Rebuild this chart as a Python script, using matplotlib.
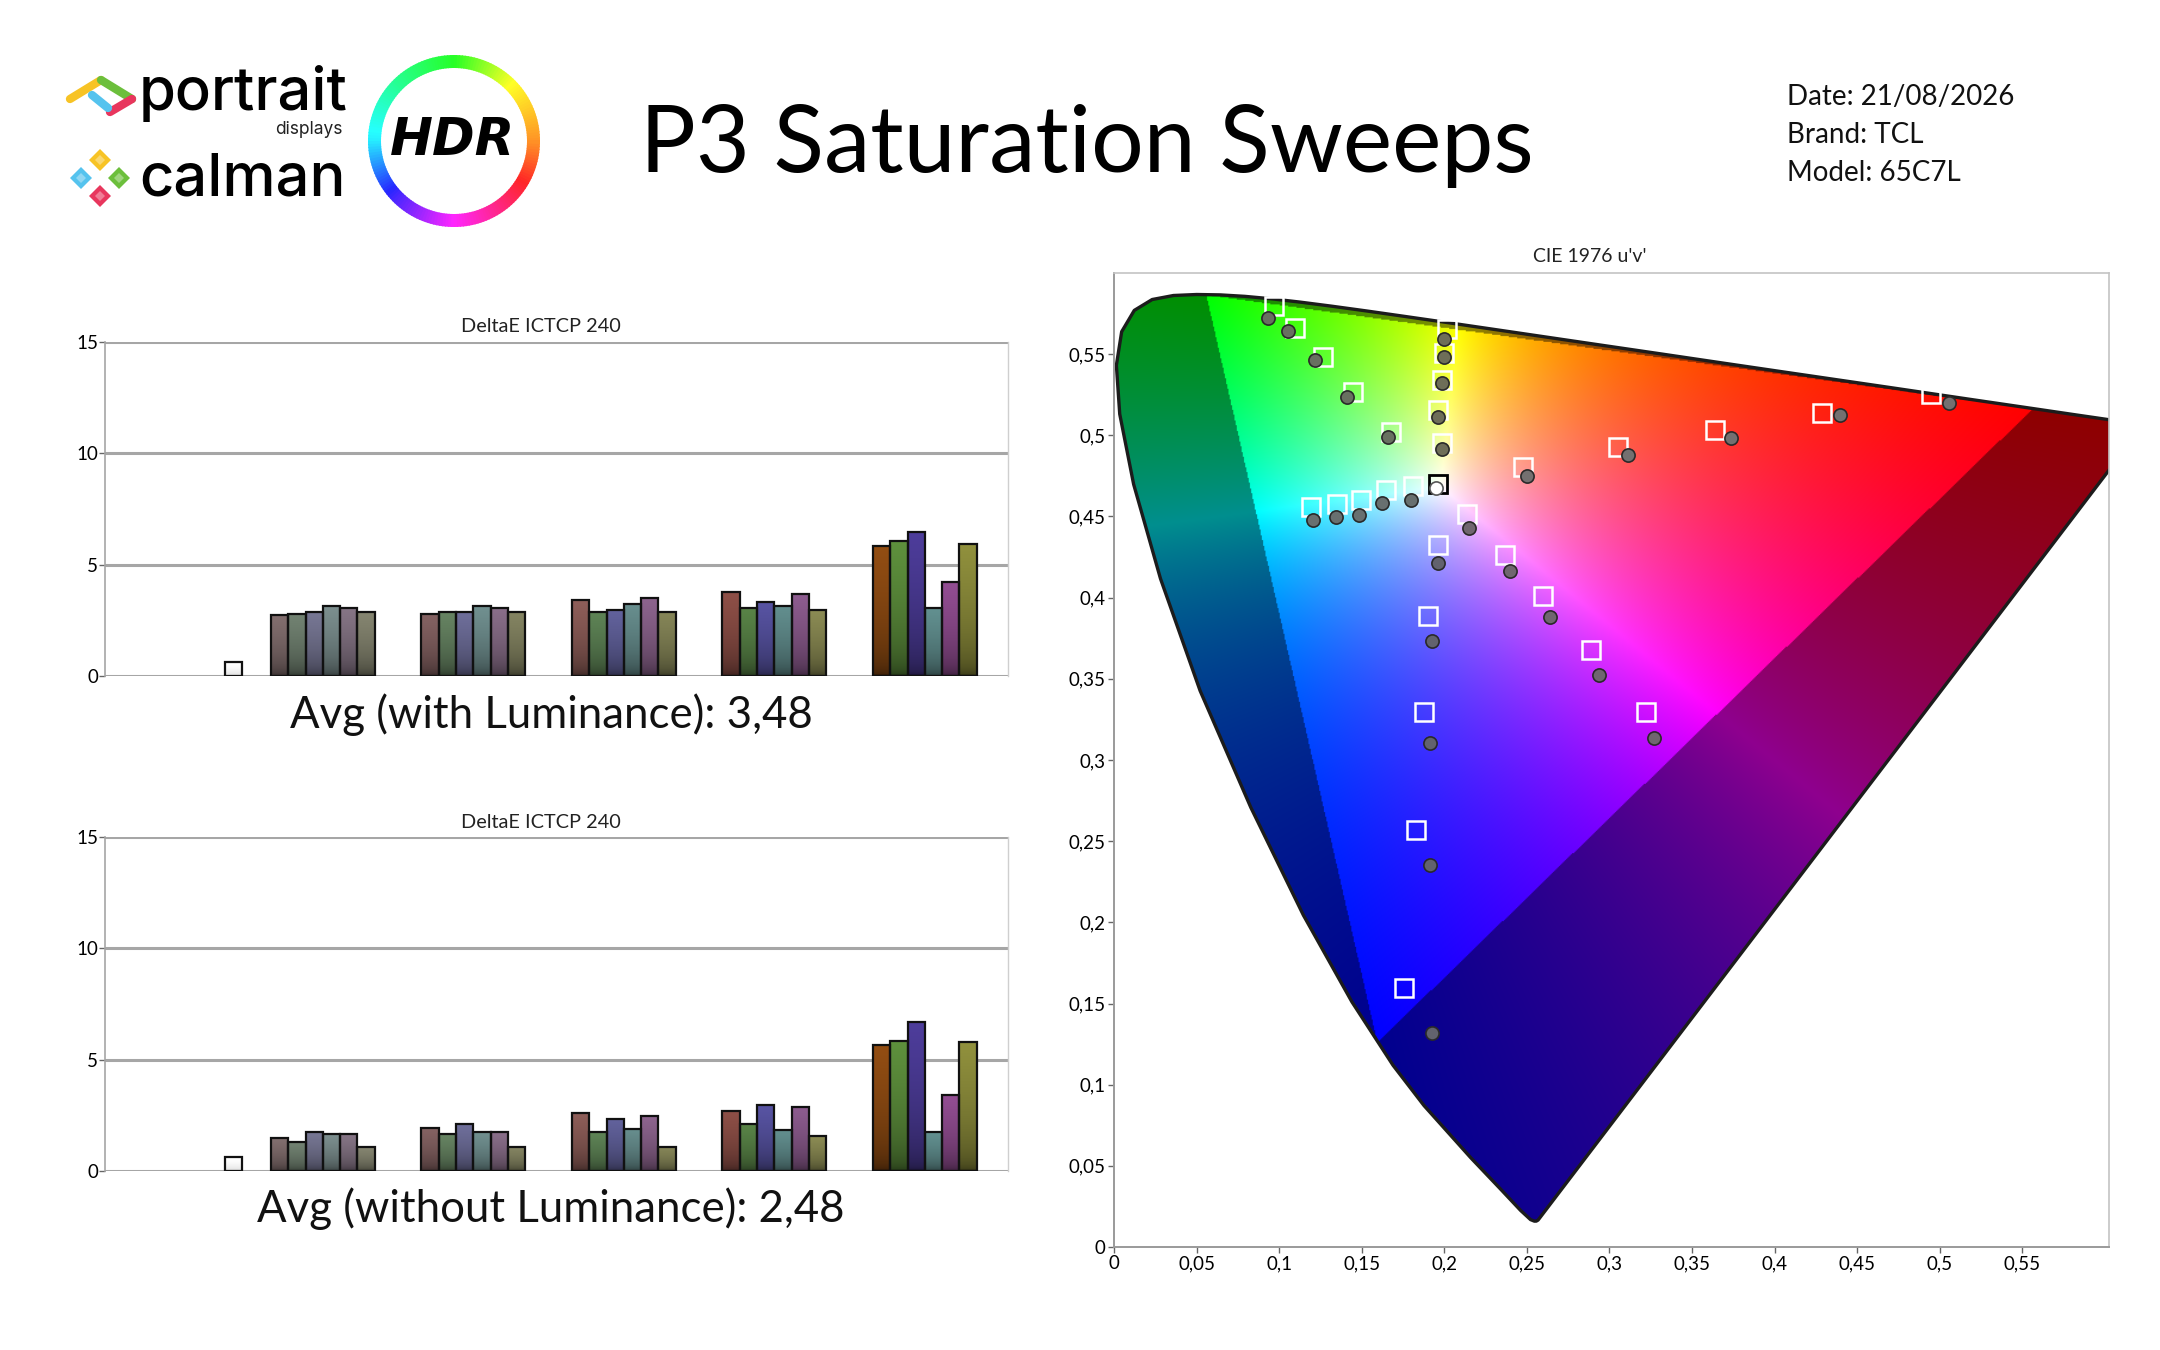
import numpy as np
import matplotlib
matplotlib.use("Agg")
import matplotlib.pyplot as plt
from matplotlib.patches import Polygon, Wedge
from matplotlib.colors import to_rgb, hsv_to_rgb

# ---------------- data ----------------
chart_title = "P3 Saturation Sweeps"
info_lines = ["Date: 21/08/2026", "Brand: TCL", "Model: 65C7L"]
bar_title = "DeltaE ICTCP 240"
cie_title = "CIE 1976 u'v'"
saturations = ["20%", "40%", "60%", "80%", "100%"]
sweep_names = ["Red", "Green", "Blue", "Cyan", "Magenta", "Yellow"]

# DeltaE with luminance
white_de_lum = 0.61
de_lum_20 = [2.73, 2.80, 2.88, 3.15, 3.06, 2.88]
de_lum_40 = [2.80, 2.88, 2.88, 3.15, 3.06, 2.88]
de_lum_60 = [3.41, 2.88, 2.98, 3.24, 3.52, 2.88]
de_lum_80 = [3.76, 3.06, 3.33, 3.15, 3.67, 2.98]
de_lum_100 = [5.86, 6.06, 6.48, 3.06, 4.20, 5.95]
avg_lum_label = "Avg (with Luminance): 3,48"

# DeltaE without luminance
white_de_nolum = 0.61
de_nolum_20 = [1.48, 1.29, 1.74, 1.64, 1.64, 1.06]
de_nolum_40 = [1.92, 1.64, 2.09, 1.74, 1.74, 1.06]
de_nolum_60 = [2.61, 1.74, 2.35, 1.89, 2.45, 1.06]
de_nolum_80 = [2.70, 2.09, 2.95, 1.82, 2.88, 1.56]
de_nolum_100 = [5.68, 5.86, 6.67, 1.74, 3.41, 5.79]
avg_nolum_label = "Avg (without Luminance): 2,48"

bar_yticks = [0, 5, 10, 15]
bar_yticklabels = ["0", "5", "10", "15"]

# CIE u'v' chart: targets (squares) and measurements (circles), 20% -> 100%
red_t_u = [0.2479, 0.3054, 0.3642, 0.4287, 0.4949]
red_t_v = [0.4808, 0.4927, 0.5034, 0.5140, 0.5255]
red_m_u = [0.2503, 0.3111, 0.3736, 0.4398, 0.5056]
red_m_v = [0.4747, 0.4876, 0.4985, 0.5126, 0.5198]

green_t_u = [0.1680, 0.1448, 0.1264, 0.1099, 0.0968]
green_t_v = [0.5020, 0.5270, 0.5485, 0.5664, 0.5797]
green_m_u = [0.1659, 0.1411, 0.1216, 0.1053, 0.0934]
green_m_v = [0.4987, 0.5237, 0.5463, 0.5643, 0.5725]

blue_t_u = [0.1961, 0.1903, 0.1880, 0.1828, 0.1759]
blue_t_v = [0.4322, 0.3889, 0.3293, 0.2571, 0.1595]
blue_m_u = [0.1961, 0.1924, 0.1914, 0.1914, 0.1927]
blue_m_v = [0.4213, 0.3735, 0.3103, 0.2351, 0.1316]

cyan_t_u = [0.1809, 0.1646, 0.1494, 0.1353, 0.1192]
cyan_t_v = [0.4687, 0.4663, 0.4603, 0.4578, 0.4556]
cyan_m_u = [0.1799, 0.1623, 0.1484, 0.1343, 0.1204]
cyan_m_v = [0.4603, 0.4583, 0.4507, 0.4496, 0.4476]

magenta_t_u = [0.2137, 0.2367, 0.2598, 0.2889, 0.3224]
magenta_t_v = [0.4517, 0.4260, 0.4012, 0.3680, 0.3293]
magenta_m_u = [0.2149, 0.2396, 0.2643, 0.2939, 0.3271]
magenta_m_v = [0.4427, 0.4162, 0.3879, 0.3522, 0.3138]

yellow_t_u = [0.1986, 0.1962, 0.1986, 0.1998, 0.2019]
yellow_t_v = [0.4953, 0.5153, 0.5342, 0.5510, 0.5653]
yellow_m_u = [0.1986, 0.1962, 0.1986, 0.2000, 0.2000]
yellow_m_v = [0.4915, 0.5116, 0.5321, 0.5485, 0.5594]

white_t_uv = [0.1962, 0.4700]
white_m_uv = [0.1952, 0.4675]

cie_xticks = [0, 0.05, 0.1, 0.15, 0.2, 0.25, 0.3, 0.35, 0.4, 0.45, 0.5, 0.55]
cie_xticklabels = ["0", "0,05", "0,1", "0,15", "0,2", "0,25", "0,3", "0,35", "0,4", "0,45", "0,5", "0,55"]
cie_yticks = [0, 0.05, 0.1, 0.15, 0.2, 0.25, 0.3, 0.35, 0.4, 0.45, 0.5, 0.55]
cie_yticklabels = ["0", "0,05", "0,1", "0,15", "0,2", "0,25", "0,3", "0,35", "0,4", "0,45", "0,5", "0,55"]

# CIE 1931 2-degree spectral locus (x, y), 380..700 nm
locus_x = [0.1741, 0.1733, 0.1726, 0.1714, 0.1689, 0.1644, 0.1566, 0.1440, 0.1355, 0.1241,
           0.1096, 0.0913, 0.0687, 0.0454, 0.0235, 0.0082, 0.0039, 0.0139, 0.0389, 0.0743,
           0.1142, 0.1547, 0.1929, 0.2296, 0.2658, 0.3016, 0.3373, 0.3731, 0.4087, 0.4441,
           0.4788, 0.5125, 0.5448, 0.5752, 0.6029, 0.6270, 0.6658, 0.6915, 0.7079, 0.7190,
           0.7260, 0.7334, 0.7347]
locus_y = [0.0050, 0.0048, 0.0048, 0.0051, 0.0069, 0.0109, 0.0177, 0.0297, 0.0399, 0.0578,
           0.0868, 0.1327, 0.2007, 0.2950, 0.4127, 0.5384, 0.6548, 0.7502, 0.8120, 0.8338,
           0.8262, 0.8059, 0.7816, 0.7543, 0.7243, 0.6923, 0.6589, 0.6245, 0.5896, 0.5547,
           0.5202, 0.4866, 0.4544, 0.4242, 0.3965, 0.3725, 0.3340, 0.3083, 0.2920, 0.2809,
           0.2740, 0.2666, 0.2653]

# ---------------- styles ----------------
FONT = "Lato"
plt.rcParams["font.family"] = [FONT, "DejaVu Sans"]

bar_colors = [
    ["#7d6a6a", "#6d7d6d", "#72728e", "#778989", "#807080", "#80806c"],
    ["#7f5e5e", "#627e5e", "#6a6a94", "#6c8a8a", "#846a84", "#7f7f5e"],
    ["#885a55", "#5a7e52", "#5e5e96", "#638888", "#876088", "#808054"],
    ["#884c44", "#557e44", "#54509c", "#5e8888", "#875889", "#858550"],
    ["#8c4a12", "#5a8a3a", "#4a3a94", "#5e8a8a", "#8c4a8c", "#8a8a3a"],
]
white_bar_color = "#f6f6f6"
meas_colors = {"red": "#747070", "green": "#687060", "blue": "#62626e",
               "cyan": "#687070", "magenta": "#706670", "yellow": "#6e6e58"}

W, H = 2160, 1350
fig = plt.figure(figsize=(W / 100, H / 100), dpi=100)
fig.patch.set_facecolor("white")

# overlay (pixel coordinates) for header and free text
ov = fig.add_axes([0, 0, 1, 1])
ov.set_xlim(0, W)
ov.set_ylim(H, 0)
ov.axis("off")


def gradient_fill(ax, rect, color, bottom_factor=0.32, zorder=2):
    x0, y0 = rect.get_x(), rect.get_y()
    w, h = rect.get_width(), rect.get_height()
    c = np.array(to_rgb(color))
    t = np.linspace(0, 1, 80)[:, None]
    f = bottom_factor + (1.05 - bottom_factor) * t ** 0.35
    img = np.clip(c[None, :] * f, 0, 1)
    im = ax.imshow(img[:, None, :], extent=[x0, x0 + w, y0, y0 + h], origin="lower",
                   aspect="auto", interpolation="bilinear", zorder=zorder)
    im.set_clip_path(rect)


def draw_bar_chart(ax, white_val, groups):
    bw = 0.115
    wb = ax.bar([0.854], [white_val], width=bw, facecolor="none", edgecolor="#111111",
                linewidth=1.6, zorder=3)
    for r in wb:
        gradient_fill(ax, r, white_bar_color, bottom_factor=0.82)
    for g, vals in enumerate(groups, start=1):
        xs = [g + 0.16 + bw * i for i in range(len(vals))]
        bars = ax.bar(xs, vals, width=bw, facecolor="none", edgecolor="#111111",
                      linewidth=1.6, zorder=3)
        for r, col in zip(bars, bar_colors[g - 1]):
            gradient_fill(ax, r, col)
    ax.set_xlim(0, 6)
    ax.set_ylim(0, 15)
    ax.set_xticks([])
    ax.set_yticks(bar_yticks)
    ax.set_yticklabels(bar_yticklabels)
    for yv in bar_yticks:
        ax.axhline(yv, color="#a6a6a6", lw=2.2, zorder=1)
    ax.spines["top"].set_visible(False)
    ax.spines["bottom"].set_visible(False)
    ax.spines["left"].set_color("#a6a6a6")
    ax.spines["left"].set_linewidth(1.2)
    ax.spines["right"].set_color("#cfcfcf")
    ax.spines["right"].set_linewidth(1.0)
    ax.tick_params(axis="y", length=4, width=1, color="#666666", labelsize=13.5, pad=1)


ax1 = fig.add_axes([105 / W, 1 - 676 / H, 903 / W, 334 / H])
draw_bar_chart(ax1, white_de_lum, [de_lum_20, de_lum_40, de_lum_60, de_lum_80, de_lum_100])
ax2 = fig.add_axes([105 / W, 1 - 1171 / H, 903 / W, 334 / H])
draw_bar_chart(ax2, white_de_nolum, [de_nolum_20, de_nolum_40, de_nolum_60, de_nolum_80, de_nolum_100])

ov.text(541, 327, bar_title, ha="center", va="center", fontsize=14.3, color="#222222")
ov.text(541, 822, bar_title, ha="center", va="center", fontsize=14.3, color="#222222")
ov.text(551, 728, avg_lum_label, ha="center", va="baseline", fontsize=31.5, color="#111111")
ov.text(551, 1222, avg_nolum_label, ha="center", va="baseline", fontsize=31.5, color="#111111")

# ---------------- CIE chart ----------------
ax3 = fig.add_axes([1114 / W, 1 - 1247 / H, 995 / W, 974 / H])
lx = np.array(locus_x)
ly = np.array(locus_y)
den = -2 * lx + 12 * ly + 3
lu = 4 * lx / den
lv = 9 * ly / den

n = 900
grid = np.linspace(0, 0.65, n)
U, V = np.meshgrid(grid, grid)
d = 6 * U - 16 * V + 12
xx = 9 * U / d
yy = np.maximum(4 * V / d, 1e-6)
XYZ = np.stack([xx / yy, np.ones_like(xx), (1 - xx - yy) / yy], -1)
M2020 = np.array([[1.7166512, -0.3556708, -0.2533663],
                  [-0.6666844, 1.6164812, 0.0157685],
                  [0.0176399, -0.0427706, 0.9421031]])
rgb = XYZ @ M2020.T
inside = (rgb >= 0).all(-1)
rgb = np.clip(rgb, 0, None)
rgb = rgb / np.maximum(rgb.max(-1, keepdims=True), 1e-9)
rgb[~inside] *= 0.56
im = ax3.imshow(rgb, extent=[0, 0.65, 0, 0.65], origin="lower", interpolation="bilinear",
                aspect="auto", zorder=1)
locus = Polygon(np.column_stack([lu, lv]), closed=True, facecolor="none",
                edgecolor="#1c1c1c", lw=2.4, zorder=2, joinstyle="round")
ax3.add_patch(locus)
im.set_clip_path(locus)

sweeps = [
    (red_t_u, red_t_v, red_m_u, red_m_v, meas_colors["red"]),
    (green_t_u, green_t_v, green_m_u, green_m_v, meas_colors["green"]),
    (blue_t_u, blue_t_v, blue_m_u, blue_m_v, meas_colors["blue"]),
    (cyan_t_u, cyan_t_v, cyan_m_u, cyan_m_v, meas_colors["cyan"]),
    (magenta_t_u, magenta_t_v, magenta_m_u, magenta_m_v, meas_colors["magenta"]),
    (yellow_t_u, yellow_t_v, yellow_m_u, yellow_m_v, meas_colors["yellow"]),
]
for tu, tv, mu, mv, mc in sweeps:
    ax3.plot(tu, tv, ls="none", marker="s", ms=13, mfc="none", mec="white", mew=1.8, zorder=4)
for tu, tv, mu, mv, mc in sweeps:
    ax3.plot(mu, mv, ls="none", marker="o", ms=9.5, mfc=mc, mec="#2a2a2a", mew=1.2, zorder=5)
ax3.plot([white_t_uv[0]], [white_t_uv[1]], ls="none", marker="s", ms=13, mfc="none",
         mec="black", mew=2.0, zorder=4)
ax3.plot([white_m_uv[0]], [white_m_uv[1]], ls="none", marker="o", ms=9.5, mfc="white",
         mec="#555555", mew=1.2, zorder=5)

ax3.set_xlim(0, 0.6025)
ax3.set_ylim(0, 0.6)
ax3.set_xticks(cie_xticks)
ax3.set_xticklabels(cie_xticklabels)
ax3.set_yticks(cie_yticks)
ax3.set_yticklabels(cie_yticklabels)
ax3.tick_params(length=4, width=1, color="#666666", labelsize=13.5, pad=2)
for s in ["left", "bottom"]:
    ax3.spines[s].set_color("#9a9a9a")
    ax3.spines[s].set_linewidth(1.4)
for s in ["top", "right"]:
    ax3.spines[s].set_color("#c4c4c4")
    ax3.spines[s].set_linewidth(1.2)
ov.text(1590, 256, cie_title, ha="center", va="center", fontsize=14, color="#222222")

# ---------------- header ----------------
ov.text(640, 172, chart_title, ha="left", va="baseline", fontsize=67, color="black")
for i, line in enumerate(info_lines):
    ov.text(1787, 105 + 38 * i, line, ha="left", va="baseline", fontsize=20, color="#111111")

# portrait logo icon
icon_segs = [((70, 99), (101, 80), "#f7c325"), ((101, 80), (132, 99), "#6cbf3c"),
             ((132, 99), (110, 112), "#e8365d"), ((92, 95), (108, 108), "#55c3ee")]
for (a, b, c) in icon_segs:
    ov.plot([a[0], b[0]], [a[1], b[1]], color=c, lw=6, solid_capstyle="round")
ov.text(139, 110, "portrait", ha="left", va="baseline", fontsize=43, color="black",
        family=["Inter", "DejaVu Sans"], fontweight="medium")
ov.text(342, 134, "displays", ha="right", va="baseline", fontsize=12.5, color="#222222",
        family=["Inter", "DejaVu Sans"])

# calman logo icon
for (cx, cy, c) in [(100, 160, "#f7c325"), (81, 178, "#55c3ee"), (119, 178, "#6cbf3c"),
                    (100, 196, "#e8365d")]:
    r = 11
    ov.add_patch(Polygon([(cx, cy - r), (cx + r, cy), (cx, cy + r), (cx - r, cy)],
                         closed=True, facecolor=c, edgecolor="none"))
    r2 = 5
    ov.add_patch(Polygon([(cx, cy - r2), (cx + r2, cy), (cx, cy + r2), (cx - r2, cy)],
                         closed=True, facecolor="white", edgecolor="none", alpha=0.35))
ov.text(139, 195, "calman", ha="left", va="baseline", fontsize=43, color="black",
        family=["Inter", "DejaVu Sans"], fontweight="medium")

# HDR ring (hue around the ring, clockwise from top)
ring_c = (454, 141)
ring_phi = [0, 45, 90, 135, 180, 225, 270, 315, 360]
ring_hue = [120, 60, 30, -15, -60, -110, -175, -210, -240]
nseg = 180
for k in range(nseg):
    a0 = 360 * k / nseg
    a1 = 360 * (k + 1) / nseg + 0.6
    am = (a0 + a1) / 2              # screen angle, counter-clockwise from right
    phi = (90 - am) % 360           # clockwise from top
    hue = (np.interp(phi, ring_phi, ring_hue) % 360) / 360
    col = hsv_to_rgb([hue, 0.85, 1.0])
    ov.add_patch(Wedge(ring_c, 86, -a1, -a0, width=13, facecolor=col, edgecolor="none"))
ov.text(452, 141, "HDR", ha="center", va="center", fontsize=37, color="black",
        family="DejaVu Sans", fontweight="bold", style="italic")

fig.savefig("out.png", dpi=100, facecolor="white")
